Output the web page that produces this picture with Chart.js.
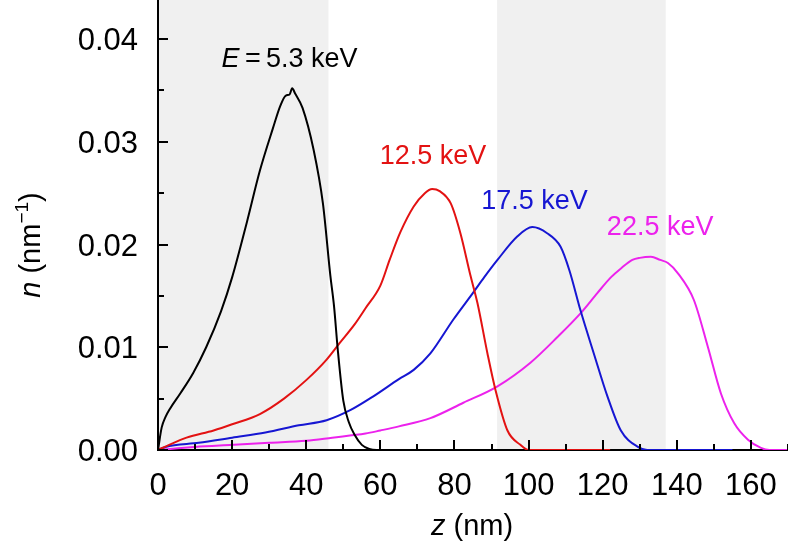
<!DOCTYPE html>
<html>
<head>
<meta charset="utf-8">
<script src="https://cdn.jsdelivr.net/npm/chart.js@4.4.1/dist/chart.umd.min.js"></script>
<style>
  html, body { margin: 0; padding: 0; background: #fff; }
  #wrap { width: 788px; height: 544px; }
</style>
</head>
<body>
<div id="wrap"><canvas id="chart"></canvas></div>
<script>
// depth profiles n(z)
const z53 = [0, 1, 2, 3.2, 6, 9.5, 13, 17, 20, 24, 27.5, 31, 33, 34.5, 35.5, 36.2, 37, 39, 42, 44.5, 46.5, 47.5, 48.5, 50, 51.5, 53, 55, 57, 59, 60];
const n53 = [0, 0.0022, 0.0032, 0.0040, 0.0055, 0.0075, 0.0100, 0.0135, 0.0168, 0.0222, 0.0272, 0.0313, 0.0335, 0.0345, 0.0346, 0.0352, 0.0347, 0.0333, 0.0292, 0.0240, 0.0170, 0.0140, 0.0098, 0.0048, 0.0027, 0.0015, 0.0005, 0.0001, 0, 0];

const z125 = [0, 3, 7.7, 15, 20, 27.5, 34, 40, 45.5, 49, 53, 56, 60, 62.5, 65.4, 69, 72, 74, 76, 79, 81.6, 84.3, 86.2, 88.9, 91.1, 94.3, 97.8, 100, 122];
const n125 = [0, 0.0005, 0.0012, 0.0019, 0.0025, 0.0035, 0.0050, 0.0068, 0.0088, 0.0104, 0.0122, 0.0138, 0.0160, 0.0185, 0.0212, 0.0237, 0.0250, 0.0254, 0.0252, 0.0240, 0.0211, 0.0170, 0.0143, 0.0094, 0.0058, 0.0019, 0.0005, 0, 0];

const z175 = [0, 2, 11, 20, 29, 38, 45.5, 52, 58, 65, 69, 73.5, 79.7, 85, 88, 91.6, 97, 101, 105, 108.6, 111, 114, 117.6, 121.3, 124.9, 129.5, 132, 155];
const n175 = [0, 0.0003, 0.0007, 0.0012, 0.0017, 0.0024, 0.0029, 0.0039, 0.0052, 0.0069, 0.0078, 0.0094, 0.0127, 0.0153, 0.0168, 0.0185, 0.0208, 0.0217, 0.0211, 0.0198, 0.0175, 0.0136, 0.0094, 0.0052, 0.0019, 0.0003, 0, 0];

const z225 = [0, 10, 20, 30, 40, 47, 56, 60, 65, 73.5, 82.4, 91.6, 100.5, 107.8, 114, 118.6, 122.2, 125, 128, 130, 133, 135.5, 137.6, 140.3, 144.6, 148.4, 151.9, 155.5, 159.2, 162.7, 165, 170];
const n225 = [0, 0.0003, 0.0005, 0.0007, 0.0009, 0.0012, 0.0016, 0.0019, 0.0023, 0.0031, 0.0046, 0.0062, 0.0085, 0.0110, 0.0133, 0.0153, 0.0168, 0.0177, 0.0185, 0.0187, 0.0188, 0.0185, 0.0182, 0.0172, 0.0146, 0.0100, 0.0055, 0.0026, 0.0010, 0.0002, 0, 0];

const xTicks = [0, 20, 40, 60, 80, 100, 120, 140, 160];
const yTicks = [0, 0.01, 0.02, 0.03, 0.04];
const yTickLabels = ['0.00', '0.01', '0.02', '0.03', '0.04'];
const shadedBands = [[0, 46], [91.5, 137]];
const energyLabels = ['5.3 keV', '12.5 keV', '17.5 keV', '22.5 keV'];
const labelAnchors = [[35.5, 0.0373], [74.2, 0.02785], [101.6, 0.02347], [135.5, 0.02094]];
const colors = ['#000000', '#e31212', '#1616d2', '#ec22ec'];

const FONT = '"Liberation Sans", Arial, Helvetica, sans-serif';

const toPoints = (zs, ns) => zs.map((z, i) => ({ x: z, y: ns[i] }));

// grey regions behind everything
const bandsPlugin = {
    id: 'bands',
    beforeDraw(chart) {
        const { ctx, chartArea, scales } = chart;
        ctx.save();
        ctx.fillStyle = '#f0f0f0';
        shadedBands.forEach(([a, b]) => {
            const x0 = scales.x.getPixelForValue(a);
            const x1 = scales.x.getPixelForValue(b);
            ctx.fillRect(x0, chartArea.top, x1 - x0, chartArea.bottom - chartArea.top);
        });
        ctx.restore();
    }
};

// inward ticks, tick labels, axis titles and curve labels
const decorPlugin = {
    id: 'decor',
    afterDraw(chart) {
        const { ctx, chartArea, scales } = chart;
        const xs = scales.x, ys = scales.y;
        ctx.save();
        ctx.strokeStyle = '#000';
        ctx.lineWidth = 2;
        ctx.beginPath();
        for (let v = 0; v <= 170; v += 10) {
            const px = Math.round(xs.getPixelForValue(v));
            const len = v % 20 === 0 ? 10 : 6;
            ctx.moveTo(px, chartArea.bottom);
            ctx.lineTo(px, chartArea.bottom - len);
        }
        for (let k = 0; k <= 8; k++) {
            const py = Math.round(ys.getPixelForValue(k * 0.005));
            const len = k % 2 === 0 ? 10 : 6;
            ctx.moveTo(chartArea.left, py);
            ctx.lineTo(chartArea.left + len, py);
        }
        ctx.stroke();

        ctx.fillStyle = '#000';
        ctx.font = '31px ' + FONT;
        ctx.textBaseline = 'alphabetic';
        ctx.textAlign = 'center';
        xTicks.forEach(v => {
            ctx.fillText(String(v), xs.getPixelForValue(v), 495);
        });
        ctx.textAlign = 'right';
        yTicks.forEach((v, i) => {
            ctx.fillText(yTickLabels[i], 138, ys.getPixelForValue(v) + 11);
        });

        // x title: z (nm)
        drawParts(ctx, [['italic 29px ' + FONT, 'z'], ['29px ' + FONT, ' (nm)']], 472, 535);

        // y title: n (nm^-1), rotated
        ctx.save();
        ctx.translate(40, 245);
        ctx.rotate(-Math.PI / 2);
        drawParts(ctx, [
            ['italic 29px ' + FONT, 'n'],
            ['29px ' + FONT, ' (nm'],
            ['19px ' + FONT, '\u22121', -12],
            ['29px ' + FONT, ')']
        ], 0, 0);
        ctx.restore();

        // curve labels
        energyLabels.forEach((txt, i) => {
            const cx = xs.getPixelForValue(labelAnchors[i][0]);
            const cy = ys.getPixelForValue(labelAnchors[i][1]);
            ctx.fillStyle = colors[i];
            const parts = i === 0
                ? [['italic 27px ' + FONT, 'E'], ['27px ' + FONT, '\u2009=\u2009' + txt]]
                : [['27px ' + FONT, txt]];
            drawParts(ctx, parts, cx, cy);
        });
        ctx.restore();
    }
};

// draws mixed-style text centred on cx, baseline at by
function drawParts(ctx, parts, cx, by) {
    let total = 0;
    parts.forEach(p => { ctx.font = p[0]; total += ctx.measureText(p[1]).width; });
    let x = cx - total / 2;
    ctx.textAlign = 'left';
    parts.forEach(p => {
        ctx.font = p[0];
        ctx.fillText(p[1], x, by + (p[2] || 0));
        x += ctx.measureText(p[1]).width;
    });
}

const axisCommon = {
    type: 'linear',
    ticks: { display: false },
    grid: { drawOnChartArea: false, drawTicks: false },
    border: { color: '#000', width: 2 }
};

new Chart(document.getElementById('chart'), {
    type: 'line',
    data: {
        datasets: [
            { data: toPoints(z53, n53), borderColor: colors[0] },
            { data: toPoints(z125, n125), borderColor: colors[1] },
            { data: toPoints(z175, n175), borderColor: colors[2] },
            { data: toPoints(z225, n225), borderColor: colors[3] }
        ]
    },
    options: {
        responsive: true,
        maintainAspectRatio: false,
        animation: false,
        layout: { padding: 0 },
        plugins: { legend: { display: false }, tooltip: { enabled: false } },
        elements: {
            point: { radius: 0 },
            line: { borderWidth: 2, cubicInterpolationMode: 'monotone' }
        },
        scales: {
            x: { ...axisCommon, min: 0, max: 170, afterFit(s) { s.height = 94; } },
            y: { ...axisCommon, min: 0, max: 0.0438, afterFit(s) { s.width = 158; } }
        }
    },
    plugins: [bandsPlugin, decorPlugin]
});
</script>
</body>
</html>
